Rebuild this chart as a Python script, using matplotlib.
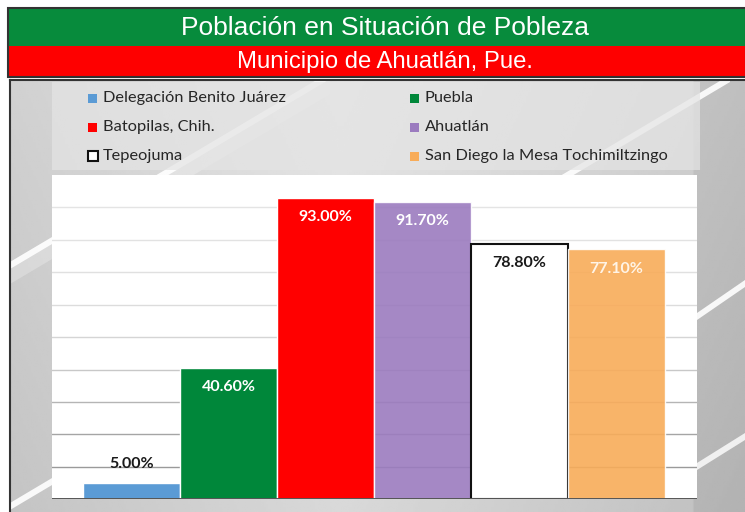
import numpy as np
import matplotlib
matplotlib.use("Agg")
import matplotlib.pyplot as plt
from matplotlib.patches import Rectangle, Polygon

# Datos del gráfico
municipios = [
    "Delegación Benito Juárez",
    "Puebla",
    "Batopilas, Chih.",
    "Ahuatlán",
    "Tepeojuma",
    "San Diego la Mesa Tochimiltzingo",
]
pobreza = [5.0, 40.6, 93.0, 91.7, 78.8, 77.1]
colores = ["#5b9bd5", "#00873a", "#ff0000", "#9b7bbf", "#ffffff", "#f8ac59"]
color_etiqueta = ["#1a1a1a", "white", "white", "white", "#1a1a1a", "#fff4e6"]

titulo = "Población en Situación de Pobleza"
subtitulo = "Municipio de Ahuatlán, Pue."

W, H = 745, 512
fig = plt.figure(figsize=(W / 100, H / 100), dpi=100)
fig.patch.set_facecolor("white")

# Fondo en coordenadas de píxel
bg = fig.add_axes([0, 0, 1, 1], zorder=0)
bg.set_xlim(0, W)
bg.set_ylim(H, 0)
bg.axis("off")

# Encabezado verde / rojo
bg.add_patch(Rectangle((8, 8), W - 8, 38, facecolor="#078b3c", edgecolor="none"))
bg.add_patch(Rectangle((8, 46), W - 8, 31, facecolor="#fe0000", edgecolor="none"))
bg.add_patch(Rectangle((8, 8), W - 7, 69, facecolor="none", edgecolor="#333333", lw=1.5))
bg.text(385, 28, titulo, color="white", fontsize=19, family="Liberation Sans",
        ha="center", va="center")
bg.text(385, 62, subtitulo, color="white", fontsize=17.2, family="Liberation Sans",
        ha="center", va="center")

# Marco con degradado gris
xx = np.linspace(0, 1, 300)
yy = np.linspace(0, 1, 200)
gx, gy = np.meshgrid(xx, yy)
gris = 0.90 - 0.10 * np.abs(gx - 0.45) / 0.55 - 0.05 * gy
gris = np.where(gx > 0.93, gris - 0.05, gris)
bg.imshow(gris, cmap="gray", vmin=0, vmax=1, extent=(10, W, H, 80),
          aspect="auto", zorder=0.5)

# Franjas diagonales blancas
def franja(x1, y1, x2, y2, grosor, alpha):
    bg.add_patch(Polygon([(x1, y1), (x2, y2), (x2, y2 + grosor), (x1, y1 + grosor)],
                         closed=True, facecolor="white", edgecolor="none",
                         alpha=alpha, zorder=0.8))

franja(10, 262, 330, 72, 7, 0.9)
franja(10, 262, 330, 72, 22, 0.25)
franja(10, 503, 730, 75, 7, 0.9)
franja(697, 313, 745, 280, 7, 0.9)
franja(697, 463, 745, 433, 7, 0.8)

bg.plot([10, 10], [80, H], color="#333333", lw=1.5, zorder=0.9)
bg.plot([10, W], [80, 80], color="#333333", lw=1.5, zorder=0.9)

# Caja de leyenda
bg.add_patch(Rectangle((52, 82), 648, 88, facecolor="#e4e4e4", alpha=0.72,
                       edgecolor="none", zorder=0.85))

leg_x = [88, 410]
leg_y = [98, 127, 156]
for i, nombre in enumerate(municipios):
    x = leg_x[i % 2]
    y = leg_y[i // 2]
    borde = "#111111" if colores[i] == "#ffffff" else "none"
    lado = 10 if borde != "none" else 9
    bg.add_patch(Rectangle((x, y - lado / 2), lado, lado, facecolor=colores[i],
                           edgecolor=borde, lw=1.5, zorder=1))
    bg.text(x + 15, y, nombre, fontsize=11.8, family="Lato", color="#262626",
            ha="left", va="center", zorder=1)

# Área de gráfico
base = 499.3
top = 175
ax = fig.add_axes([52 / W, (H - base) / H, 645 / W, (base - top) / H], zorder=1)
ax.set_facecolor("white")
ax.set_xlim(-0.82, 5.83)
ax.set_ylim(0, 100)

grid_grises = ["#9a9a9a", "#a5a5a5", "#b5b5b5", "#c8c8c8", "#d5d5d5",
               "#dcdcdc", "#e0e0e0", "#e2e2e2", "#e4e4e4"]
for k, g in zip(range(10, 100, 10), grid_grises):
    ax.axhline(k, color=g, lw=1, zorder=0)
ax.axhline(0, color="#555555", lw=1.4, zorder=3)

pos = np.arange(len(municipios))
for i in pos:
    if colores[i] == "#ffffff":
        ax.bar(i, pobreza[i], width=0.99, color="white", edgecolor="#111111",
               lw=1.5, zorder=2)
    else:
        transp = 0.9 if i in (3, 5) else 1.0
        ax.bar(i, pobreza[i], width=1.0, color=colores[i], edgecolor="white",
               lw=1, alpha=transp, zorder=2)

for i in pos:
    off = 14 if i == 0 else -14
    ax.annotate(f"{pobreza[i]:.2f}%", (i, pobreza[i]), xytext=(0, off),
                textcoords="offset points", ha="center", va="center",
                fontsize=11.5, fontweight="bold", family="Lato",
                color=color_etiqueta[i], zorder=4)

ax.set_xticks([])
ax.set_yticks([])
for s in ax.spines.values():
    s.set_visible(False)

fig.savefig("out.png", dpi=100)
